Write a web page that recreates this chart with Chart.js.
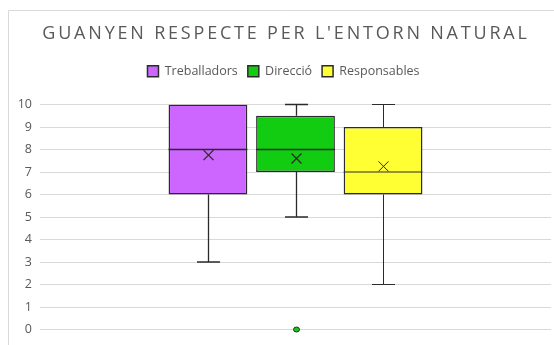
<!DOCTYPE html>
<html>
<head>
<meta charset="utf-8">
<script src="https://cdn.jsdelivr.net/npm/chart.js@4/dist/chart.umd.min.js"></script>
<style>
  html, body { margin: 0; padding: 0; background: #fff; }
</style>
</head>
<body>
<canvas id="chart" width="554" height="345"></canvas>
<script>
// values
const chartTitle = "GUANYEN RESPECTE PER L'ENTORN NATURAL";
const series = ['Treballadors', 'Direcció', 'Responsables'];
const mins = [3, 5, 2];
const q1s = [6, 7, 6];
const medians = [8, 8, 7];
const q3s = [10, 9.5, 9];
const maxs = [10, 10, 10];
const means = [7.75, 7.6, 7.25];
const outliers = [[], [0], []];
const colors = ['#CC66FF', '#12CC12', '#FFFF33'];

const lineColor = '#2b2b2b';
const textColor = '#595959';

// whiskers, medians, means and outliers on top of the floating bars
const boxExtras = {
    id: 'boxExtras',
    beforeDraw(chart) {
        const ctx = chart.ctx;
        ctx.save();
        // outer chart frame (only top and left edges are visible)
        ctx.strokeStyle = '#d9d9d9';
        ctx.lineWidth = 1;
        ctx.beginPath();
        ctx.moveTo(8.5, 345);
        ctx.lineTo(8.5, 10.5);
        ctx.lineTo(554, 10.5);
        ctx.stroke();
        // title with letter spacing
        ctx.fillStyle = textColor;
        ctx.font = '18px "Open Sans"';
        ctx.letterSpacing = '2.8px';
        ctx.textAlign = 'center';
        ctx.textBaseline = 'middle';
        ctx.fillText(chartTitle, 286, 34);
        ctx.restore();
    },
    beforeLayout(chart) {
        // a bit more room under the legend, like Excel
        const legend = chart.legend;
        if (legend && !legend._patched) {
            const fit = legend.fit;
            legend.fit = function () {
                fit.call(this);
                this.height += 17;
            };
            legend._patched = true;
        }
    },
    afterDatasetsDraw(chart) {
        const ctx = chart.ctx;
        const y = chart.scales.y;
        ctx.save();
        ctx.strokeStyle = lineColor;
        ctx.lineWidth = 1.3;
        series.forEach((s, i) => {
            const bar = chart.getDatasetMeta(i).data[0];
            const x = Math.round(bar.x) + 0.5;
            const half = bar.width / 2;
            const cap = 11.5;
            ctx.beginPath();
            // upper whisker
            if (maxs[i] > q3s[i]) {
                ctx.moveTo(x, y.getPixelForValue(q3s[i]));
                ctx.lineTo(x, y.getPixelForValue(maxs[i]));
                ctx.moveTo(x - cap, y.getPixelForValue(maxs[i]));
                ctx.lineTo(x + cap, y.getPixelForValue(maxs[i]));
            }
            // lower whisker
            ctx.moveTo(x, y.getPixelForValue(q1s[i]));
            ctx.lineTo(x, y.getPixelForValue(mins[i]));
            ctx.moveTo(x - cap, y.getPixelForValue(mins[i]));
            ctx.lineTo(x + cap, y.getPixelForValue(mins[i]));
            // median
            ctx.moveTo(bar.x - half, y.getPixelForValue(medians[i]));
            ctx.lineTo(bar.x + half, y.getPixelForValue(medians[i]));
            ctx.stroke();
            // mean marker
            const my = y.getPixelForValue(means[i]);
            const m = 5;
            ctx.beginPath();
            ctx.moveTo(x - m, my - m);
            ctx.lineTo(x + m, my + m);
            ctx.moveTo(x + m, my - m);
            ctx.lineTo(x - m, my + m);
            ctx.stroke();
            // outliers
            outliers[i].forEach(v => {
                ctx.beginPath();
                ctx.ellipse(x, y.getPixelForValue(v), 3, 2.5, 0, 0, Math.PI * 2);
                ctx.fillStyle = colors[i];
                ctx.fill();
                ctx.lineWidth = 1;
                ctx.stroke();
            });
        });
        ctx.restore();
    }
};

const ctx = document.getElementById('chart').getContext('2d');
const myChart = new Chart(ctx, {
    type: 'bar',
    data: {
        labels: [''],
        datasets: series.map((s, i) => ({
            label: s,
            data: [[q1s[i], q3s[i]]],
            backgroundColor: colors[i],
            borderColor: lineColor,
            borderWidth: 1.5,
            borderSkipped: false,
            categoryPercentage: 0.514,
            barPercentage: 0.9
        }))
    },
    options: {
        responsive: false,
        animation: false,
        layout: {
            padding: { top: 55, left: 16, right: 3, bottom: 6 }
        },
        plugins: {
            legend: {
                position: 'top',
                labels: {
                    boxWidth: 11,
                    boxHeight: 11,
                    color: textColor,
                    font: { family: '"Open Sans"', size: 12.5 },
                    padding: 10
                }
            },
            title: { display: false },
            tooltip: { enabled: false }
        },
        scales: {
            x: {
                display: false
            },
            y: {
                min: 0,
                max: 10,
                afterFit(scale) { scale.width = 24; },
                border: { display: false },
                grid: { color: '#d9d9d9', drawTicks: false },
                ticks: {
                    stepSize: 1,
                    padding: 8,
                    color: textColor,
                    font: { family: '"Open Sans"', size: 12.5 }
                }
            }
        }
    },
    plugins: [boxExtras]
});
</script>
</body>
</html>
